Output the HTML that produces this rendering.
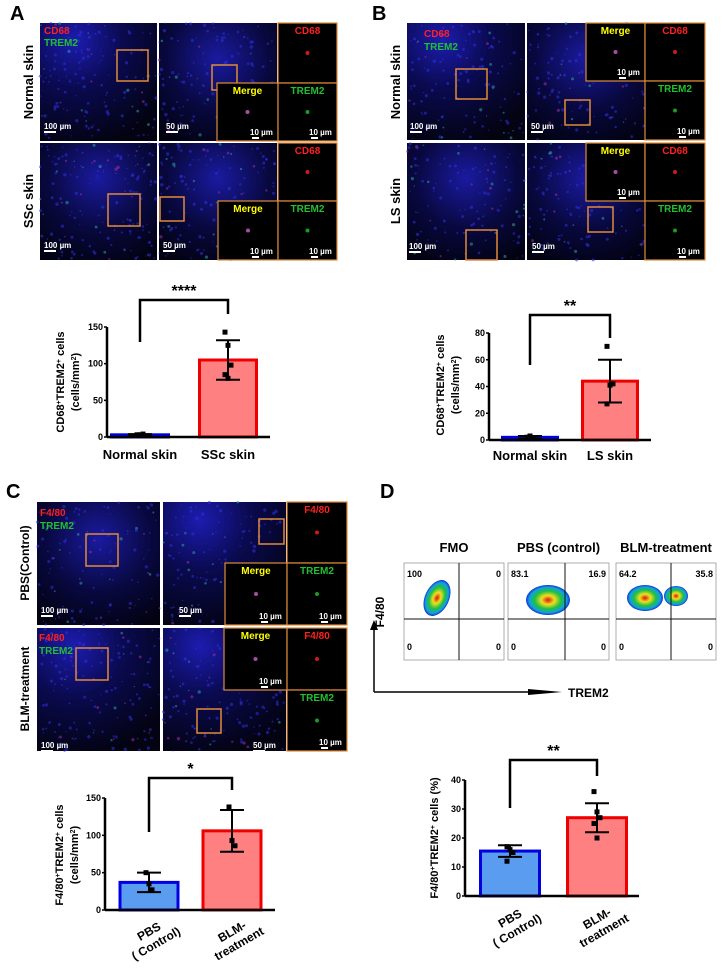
<!DOCTYPE html>
<html><head><meta charset="utf-8">
<style>
html,body{margin:0;padding:0;background:#fff;}
svg{display:block;font-family:"Liberation Sans",Arial,sans-serif;font-weight:bold;}
</style></head>
<body>
<svg id="fig" width="722" height="970" viewBox="0 0 722 970" xmlns="http://www.w3.org/2000/svg">
<defs>
<radialGradient id="skin" cx="30%" cy="15%" r="90%"><stop offset="0" stop-color="#1c1cb0"/><stop offset="0.45" stop-color="#0a0a50"/><stop offset="1" stop-color="#030312"/></radialGradient>
<radialGradient id="skin2" cx="50%" cy="30%" r="80%"><stop offset="0" stop-color="#1a1aa0"/><stop offset="0.55" stop-color="#08083e"/><stop offset="1" stop-color="#020210"/></radialGradient>
<radialGradient id="blob" cx="50%" cy="50%" r="50%"><stop offset="0" stop-color="#e01010"/><stop offset="0.3" stop-color="#f0e020"/><stop offset="0.6" stop-color="#20c040"/><stop offset="0.85" stop-color="#10a0e0"/><stop offset="1" stop-color="#1030d0"/></radialGradient>
</defs>
<g id="layer"></g>
<g id="text-layer">
<text x="10" y="20" font-size="20">A</text>
<text x="372" y="20" font-size="20">B</text>
<text x="6" y="498" font-size="20">C</text>
<text x="380" y="498" font-size="20">D</text>
</g>
</svg>
<script>
// ===== chart data =====
const catsA = ["Normal skin","SSc skin"];
const meansA = [3,105];
const errA = [1,27];
const ptsA = [[2,3,4,3],[143,125,98,85,80]];
const ticksA = [0,50,100,150];

const catsB = ["Normal skin","LS skin"];
const meansB = [2,44];
const errB = [1,16];
const ptsB = [[2,3,1,2],[70,41,42,27]];
const ticksB = [0,20,40,60,80];

const catsC = [["PBS","( Control)"],["BLM-","treatment"]];
const meansC = [37,106];
const errC = [13,28];
const ptsC = [[50,35,27],[138,93,86]];
const ticksC = [0,50,100,150];

const catsD = [["PBS","( Control)"],["BLM-","treatment"]];
const meansD = [15.5,27];
const errD = [2,5];
const ptsD = [[17,16,15,12],[36,29,27,25,20]];
const ticksD = [0,10,20,30,40];

const quadFMO = ["100","0","0","0"];
const quadPBS = ["83.1","16.9","0","0"];
const quadBLM = ["64.2","35.8","0","0"];

const NS="http://www.w3.org/2000/svg";
const L=document.getElementById('layer');
function mk(tag,attrs,parent){const e=document.createElementNS(NS,tag);for(const k in attrs)e.setAttribute(k,attrs[k]);(parent||L).appendChild(e);return e;}
function txt(x,y,s,size,attrs,parent){const t=mk('text',Object.assign({x:x,y:y,'font-size':size},attrs||{}),parent);t.textContent=s;return t;}

// ===== microscopy panels =====
let seed=7;function rnd(){seed=(seed*9301+49297)%233280;return seed/233280;}
function micro(x,y,w,h,name,grad,dots){
  const g=mk('g',{});
  
  
  mk('rect',{x:x,y:y,width:w,height:h,fill:grad?'url(#'+grad+')':'#000'},g);
  const n=dots||0;
  for(let i=0;i<n;i++){
    const c=rnd()<0.8?'#3030e0':(rnd()<0.5?'#a030a0':'#30a0a0');
    mk('circle',{cx:x+rnd()*w,cy:y+rnd()*h,r:0.6+rnd()*1.1,fill:c,opacity:0.55},g);
  }
  return g;
}
function inset(x,y,w,h,name,label,color,scale){
  const g=mk('g',{});
  
  
  mk('rect',{x:x,y:y,width:w,height:h,fill:'#000',stroke:'#e08a3a','stroke-width':1.2},g);
  if(label){const t=txt(x+w/2,y+11,label,10,{'text-anchor':'middle',fill:color},g);}
  if(scale){txt(x+w-28,y+h-6,'10 µm',8,{fill:'#fff'},g);mk('rect',{x:x+w-26,y:y+h-4,width:7,height:2,fill:'#fff'},g);}
  mk('circle',{cx:x+w/2,cy:y+h/2,r:2,fill:color==='#ffff00'?'#d060d0':color,opacity:0.8},g);
  return g;
}
function box(x,y,w,h){mk('rect',{x:x,y:y,width:w,height:h,fill:'none',stroke:'#e08a3a','stroke-width':1.5});}
function scale(x,y,s){txt(x,y,s,8,{fill:'#fff'});mk('rect',{x:x,y:y+2,width:12,height:2,fill:'#fff'});}

// Panel A
micro(40,23,117,118,'a-normal-overview','skin',140);
micro(40,143,117,117,'a-ssc-overview','skin2',160);
micro(159,23,118,118,'a-normal-zoom','skin2',120);
micro(159,143,118,117,'a-ssc-zoom','skin2',150);
txt(44,34,'CD68',10,{fill:'#ff2020'});txt(44,46,'TREM2',10,{fill:'#20c030'});
box(117,50,31,31);box(108,194,32,32);box(212,65,25,25);box(160,197,24,24);
scale(44,129,'100 µm');scale(44,248,'100 µm');scale(166,129,'50 µm');scale(163,248,'50 µm');
inset(278,23,59,60,'a-normal-cd68-inset','CD68','#ff2020');
inset(217,83,61,58,'a-normal-merge-inset','Merge','#ffff00',1);
inset(278,83,59,58,'a-normal-trem2-inset','TREM2','#20c030',1);
inset(278,143,59,58,'a-ssc-cd68-inset','CD68','#ff2020');
inset(218,201,60,59,'a-ssc-merge-inset','Merge','#ffff00',1);
inset(278,201,59,59,'a-ssc-trem2-inset','TREM2','#20c030',1);
txt(0,0,'Normal skin',13,{transform:'translate(33,82) rotate(-90)','text-anchor':'middle'});
txt(0,0,'SSc skin',13,{transform:'translate(33,201) rotate(-90)','text-anchor':'middle'});

// Panel B
micro(407,23,118,117,'b-normal-overview','skin',120);
micro(407,143,118,117,'b-ls-overview','skin2',120);
micro(527,23,118,117,'b-normal-zoom','skin2',130);
micro(527,143,118,117,'b-ls-zoom','skin2',130);
txt(424,37,'CD68',10,{fill:'#ff2020'});txt(424,50,'TREM2',10,{fill:'#20c030'});
box(456,69,31,30);box(466,230,31,30);box(565,100,25,25);box(588,207,25,25);
scale(410,129,'100 µm');scale(409,249,'100 µm');scale(531,129,'50 µm');scale(532,249,'50 µm');
inset(586,23,59,58,'b-normal-merge-inset','Merge','#ffff00',1);
inset(645,23,60,58,'b-normal-cd68-inset','CD68','#ff2020');
inset(645,81,60,59,'b-normal-trem2-inset','TREM2','#20c030',1);
inset(586,143,59,58,'b-ls-merge-inset','Merge','#ffff00',1);
inset(645,143,60,58,'b-ls-cd68-inset','CD68','#ff2020');
inset(645,201,60,59,'b-ls-trem2-inset','TREM2','#20c030',1);
txt(0,0,'Normal skin',13,{transform:'translate(400,82) rotate(-90)','text-anchor':'middle'});
txt(0,0,'LS skin',13,{transform:'translate(400,201) rotate(-90)','text-anchor':'middle'});

// Panel C
micro(37,502,123,123,'c-pbs-overview','skin2',110);
micro(37,628,123,123,'c-blm-overview','skin',140);
micro(163,502,123,123,'c-pbs-zoom','skin',130);
micro(163,628,123,123,'c-blm-zoom','skin',150);
txt(40,516,'F4/80',10,{fill:'#ff2020'});txt(40,529,'TREM2',10,{fill:'#20c030'});
txt(39,641,'F4/80',10,{fill:'#ff2020'});txt(39,654,'TREM2',10,{fill:'#20c030'});
box(86,534,32,32);box(76,648,32,32);box(259,519,25,25);box(197,709,24,24);
scale(41,613,'100 µm');scale(41,748,'100 µm');scale(179,613,'50 µm');scale(253,748,'50 µm');
inset(287,502,60,61,'c-pbs-f480-inset','F4/80','#ff2020');
inset(225,563,62,62,'c-pbs-merge-inset','Merge','#ffff00',1);
inset(287,563,60,62,'c-pbs-trem2-inset','TREM2','#20c030',1);
inset(224,628,63,62,'c-blm-merge-inset','Merge','#ffff00',1);
inset(287,628,60,62,'c-blm-f480-inset','F4/80','#ff2020');
inset(287,690,60,61,'c-blm-trem2-inset','TREM2','#20c030',1);
txt(0,0,'PBS(Control)',12,{transform:'translate(29,563) rotate(-90)','text-anchor':'middle'});
txt(0,0,'BLM-treatment',12,{transform:'translate(29,689) rotate(-90)','text-anchor':'middle'});

// Panel D flow plots
function flow(x,w,vx,title,quads,name,blobs){
  const y=563,h=97,hy=619;
  const g=mk('g',{});
  
  
  txt(x+w/2,552,title,13,{'text-anchor':'middle'},g);
  mk('rect',{x:x,y:y,width:w,height:h,fill:'#fff',stroke:'#999','stroke-width':0.8},g);
  blobs.forEach(b=>mk('ellipse',{cx:b[0],cy:b[1],rx:b[2],ry:b[3],fill:'url(#blob)',transform:'rotate('+(b[4]||0)+' '+b[0]+' '+b[1]+')'},g));
  mk('line',{x1:vx,y1:y,x2:vx,y2:y+h,stroke:'#111','stroke-width':1},g);
  mk('line',{x1:x,y1:hy,x2:x+w,y2:hy,stroke:'#111','stroke-width':1},g);
  txt(x+3,y+14,quads[0],9,{},g);
  txt(x+w-3,y+14,quads[1],9,{'text-anchor':'end'},g);
  txt(x+3,y+h-10,quads[2],9,{},g);
  txt(x+w-3,y+h-10,quads[3],9,{'text-anchor':'end'},g);
}
flow(404,100,459,'FMO',quadFMO,'flow-fmo',[[437,598,12,19,25]]);
flow(508,101,565,'PBS (control)',quadPBS,'flow-pbs',[[548,600,22,15,0]]);
flow(616,100,671,'BLM-treatment',quadBLM,'flow-blm',[[645,598,18,13,0],[676,596,12,10,0]]);
txt(0,0,'F4/80',12,{transform:'translate(384,612) rotate(-90)','text-anchor':'middle'});
mk('line',{x1:374,y1:692,x2:374,y2:628,stroke:'#000','stroke-width':1.5});
mk('polygon',{points:'370,630 378,630 374,620',fill:'#000'});
mk('line',{x1:374,y1:692,x2:550,y2:692,stroke:'#000','stroke-width':1.5});
mk('polygon',{points:'528,689 562,692 528,695',fill:'#000'});
txt(568,697,'TREM2',12,{});

// ===== bar charts =====
function chart(cfg,cats,means,errs,pts,ticks){
  const g=mk('g',{});
  
  
  const ymax=ticks[ticks.length-1];
  const Y=v=>cfg.y0+(cfg.yTop-cfg.y0)*v/ymax;
  const fills=['#5a9cf0','#ff8080'],strokes=['#0000e0','#ee0000'];
  means.forEach((m,i)=>{
    const cx=cfg.cx[i],bw=cfg.bw;
    const bar=mk('rect',{x:cx-bw/2,y:Y(m),width:bw,height:Math.max(0,cfg.y0-Y(m)),fill:fills[i],stroke:strokes[i],'stroke-width':3},g);
    
    
    mk('line',{x1:cx,y1:Y(m+errs[i]),x2:cx,y2:Y(m-errs[i]),stroke:'#000','stroke-width':2},g);
    [m+errs[i],m-errs[i]].forEach(v=>mk('line',{x1:cx-12,y1:Y(v),x2:cx+12,y2:Y(v),stroke:'#000','stroke-width':2},g));
    pts[i].forEach((p,j)=>{
      const d=mk('rect',{x:cx-2.5+((j%3)-1)*3,y:Y(p)-2.5,width:5,height:5,fill:'#000'},g);
      
      
    });
  });
  mk('line',{x1:cfg.ax0,y1:Y(0),x2:cfg.ax0,y2:Y(ymax),stroke:'#000','stroke-width':2.5},g);
  mk('line',{x1:cfg.ax0,y1:Y(0),x2:cfg.ax1,y2:Y(0),stroke:'#000','stroke-width':2.5},g);
  ticks.forEach(t=>{
    mk('line',{x1:cfg.ax0-3,y1:Y(t),x2:cfg.ax0,y2:Y(t),stroke:'#000','stroke-width':1.5},g);
    const tl=txt(cfg.ax0-4,Y(t)+3,String(t),9,{'text-anchor':'end'},g);
    
    
  });
  cats.forEach((c,i)=>{
    if(typeof c==='string'){
      txt(cfg.cx[i],cfg.labY,c,13,{'text-anchor':'middle'},g);
    } else {
      const t=mk('text',{'font-size':12,'text-anchor':'middle',transform:'translate('+(cfg.cx[i]+2)+','+(cfg.labY)+') rotate(-30)'},g);
      c.forEach((s,k)=>{const ts=mk('tspan',{x:0,dy:k?14:0},t);ts.textContent=s;});
    }
  });
  const b=cfg.br;
  mk('polyline',{points:cfg.cx[0]+','+b[0]+' '+cfg.cx[0]+','+b[1]+' '+cfg.cx[1]+','+b[1]+' '+cfg.cx[1]+','+b[2],fill:'none',stroke:'#000','stroke-width':2.5},g);
  txt((cfg.cx[0]+cfg.cx[1])/2,b[1]-4,cfg.star,16,{'text-anchor':'middle'},g);
  cfg.title.forEach((s,k)=>{
    const t=mk('text',{'font-size':11,'text-anchor':'middle',transform:'translate('+(cfg.tx+k*15)+','+cfg.ty+') rotate(-90)'},g);
    t.innerHTML=s;
  });
}
chart({name:'chart-a',y0:437,yTop:327,ax0:107,ax1:270,cx:[140,228],bw:57,labY:459,br:[342,300,314],star:'****',tx:64,ty:382,
  title:['CD68<tspan baseline-shift="super" font-size="7">+</tspan>TREM2<tspan baseline-shift="super" font-size="7">+</tspan> cells','(cells/mm<tspan baseline-shift="super" font-size="7">2</tspan>)']},catsA,meansA,errA,ptsA,ticksA);
chart({name:'chart-b',y0:440,yTop:333,ax0:489,ax1:651,cx:[530,610],bw:55,labY:460,br:[365,315,338],star:'**',tx:444,ty:385,
  title:['CD68<tspan baseline-shift="super" font-size="7">+</tspan>TREM2<tspan baseline-shift="super" font-size="7">+</tspan> cells','(cells/mm<tspan baseline-shift="super" font-size="7">2</tspan>)']},catsB,meansB,errB,ptsB,ticksB);
chart({name:'chart-c',y0:910,yTop:798,ax0:105,ax1:275,cx:[149,232],bw:58,labY:935,br:[832,778,790],star:'*',tx:63,ty:855,
  title:['F4/80<tspan baseline-shift="super" font-size="7">+</tspan>TREM2<tspan baseline-shift="super" font-size="7">+</tspan> cells','(cells/mm<tspan baseline-shift="super" font-size="7">2</tspan>)']},catsC,meansC,errC,ptsC,ticksC);
chart({name:'chart-d',y0:896,yTop:780,ax0:465,ax1:639,cx:[510,597],bw:59,labY:922,br:[808,760,776],star:'**',tx:438,ty:838,
  title:['F4/80<tspan baseline-shift="super" font-size="7">+</tspan>TREM2<tspan baseline-shift="super" font-size="7">+</tspan> cells (%)']},catsD,meansD,errD,ptsD,ticksD);
</script>
</body></html>
